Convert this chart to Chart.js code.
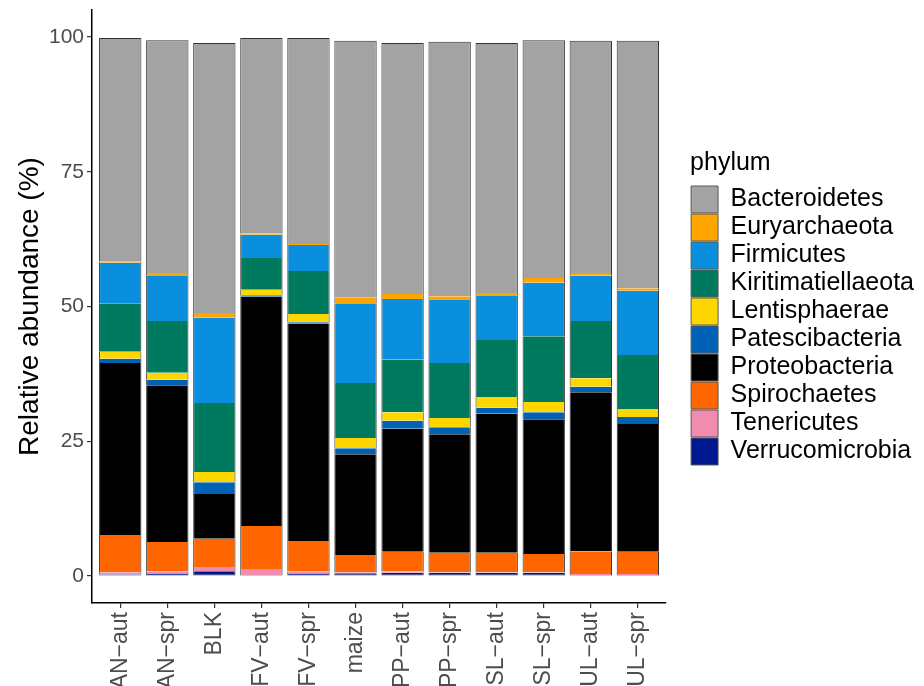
<!DOCTYPE html>
<html>
<head>
<meta charset="utf-8">
<title>Relative abundance by phylum</title>
<script src="https://cdn.jsdelivr.net/npm/chart.js@4.4.1/dist/chart.umd.min.js"></script>
<style>
  html, body { margin: 0; padding: 0; background: #fff; }
  #wrap { width: 924px; height: 686px; }
</style>
</head>
<body>
<div id="wrap"><canvas id="chart" width="924" height="686"></canvas></div>
<script>
const categories = ["AN−aut", "AN−spr", "BLK", "FV−aut", "FV−spr", "maize",
  "PP−aut", "PP−spr", "SL−aut", "SL−spr", "UL−aut", "UL−spr"];

// relative abundance (%) per sample
const bacteroidetes     = [41.5, 43.2, 50.1, 36.2, 38.2, 47.7, 46.6, 47.2, 46.4, 44.1, 43.1, 45.9];
const euryarchaeota     = [0.2, 0.4, 0.9, 0.3, 0.2, 1.0, 0.9, 0.7, 0.4, 0.9, 0.5, 0.5];
const firmicutes        = [7.5, 8.5, 15.8, 4.3, 4.8, 14.8, 11.3, 11.7, 8.3, 9.9, 8.4, 11.9];
const kiritimatiellaeota = [9.0, 9.6, 12.8, 5.9, 8.0, 10.2, 9.7, 10.2, 10.6, 12.2, 10.6, 10.0];
const lentisphaerae     = [1.3, 1.3, 1.9, 1.0, 1.5, 1.9, 1.6, 1.7, 2.0, 1.9, 1.6, 1.5];
const patescibacteria   = [0.8, 1.0, 2.2, 0.3, 0.3, 1.1, 1.5, 1.3, 1.1, 1.3, 1.0, 1.3];
const proteobacteria    = [31.9, 29.1, 8.3, 42.5, 40.3, 18.7, 22.8, 22.0, 25.8, 25.0, 29.5, 23.7];
const spirochaetes      = [6.9, 5.4, 5.2, 8.0, 5.6, 3.2, 3.6, 3.6, 3.6, 3.4, 4.2, 4.1];
const tenericutes       = [0.4, 0.5, 0.8, 1.1, 0.5, 0.2, 0.3, 0.1, 0.1, 0.1, 0.2, 0.2];
const verrucomicrobia   = [0.3, 0.4, 0.9, 0.2, 0.4, 0.5, 0.6, 0.6, 0.6, 0.6, 0.2, 0.2];

const yTicks = [0, 25, 50, 75, 100];

const FONT = "'Liberation Sans', Arial, Helvetica, sans-serif";
const EDGE = "#333333";

// bottom of the stack first
const layers = [
  { label: "Verrucomicrobia",    data: verrucomicrobia,    color: "#00188f" },
  { label: "Tenericutes",        data: tenericutes,        color: "#f08caf" },
  { label: "Spirochaetes",       data: spirochaetes,       color: "#ff6600" },
  { label: "Proteobacteria",     data: proteobacteria,     color: "#000000" },
  { label: "Patescibacteria",    data: patescibacteria,    color: "#0062b4" },
  { label: "Lentisphaerae",      data: lentisphaerae,      color: "#ffd700" },
  { label: "Kiritimatiellaeota", data: kiritimatiellaeota, color: "#007a5e" },
  { label: "Firmicutes",         data: firmicutes,         color: "#0a8fdf" },
  { label: "Euryarchaeota",      data: euryarchaeota,      color: "#ffa500" },
  { label: "Bacteroidetes",      data: bacteroidetes,      color: "#a3a3a3" },
];

const datasets = layers.map((l, k) => ({
  label: l.label,
  data: l.data.map((v, i) => ({ x: i, y: v })),
  backgroundColor: l.color,
  borderColor: EDGE,
  borderWidth: {
    left: 1, right: 1,
    top: k === layers.length - 1 ? 1 : 0,
    bottom: k === 0 ? 1 : 0,
  },
  borderSkipped: false,
  barPercentage: 0.9,
  categoryPercentage: 1.0,
}));

new Chart(document.getElementById("chart"), {
  type: "bar",
  data: { datasets },
  options: {
    responsive: false,
    animation: false,
    devicePixelRatio: 1,
    layout: { padding: { top: 10, left: 0, right: 0, bottom: 0 } },
    plugins: {
      tooltip: { enabled: false },
      legend: {
        position: "right",
        fullSize: false,
        reverse: true,
        align: "center",
        maxWidth: 260,
        title: {
          display: true,
          text: "phylum",
          position: "start",
          color: "#000",
          font: { family: FONT, size: 25 },
          padding: { top: 4, bottom: 4 },
        },
        labels: {
          color: "#000",
          font: { family: FONT, size: 25 },
          boxWidth: 27,
          boxHeight: 27,
          padding: 1,
          generateLabels: (chart) =>
            Chart.defaults.plugins.legend.labels.generateLabels(chart).map((it) => ({
              ...it, strokeStyle: "#5a5a5a", lineWidth: 1,
            })),
        },
      },
    },
    scales: {
      x: {
        type: "linear",
        min: -0.6,
        max: 11.6,
        offset: false,
        stacked: true,
        afterBuildTicks: (s) => { s.ticks = categories.map((_, i) => ({ value: i })); },
        afterFit: (s) => { s.height = 83; s.paddingLeft = 0; s.paddingRight = 0; },
        ticks: {
          autoSkip: false,
          minRotation: 90,
          maxRotation: 90,
          padding: 4,
          color: "#4d4d4d",
          font: { family: FONT, size: 23 },
          callback: (v) => categories[v],
        },
        grid: { offset: false, drawOnChartArea: false, drawTicks: true, tickLength: 5, color: "#333", lineWidth: 1.2 },
        border: { display: true, color: "#000", width: 1.5 },
      },
      y: {
        min: -5,
        max: 105,
        stacked: true,
        afterBuildTicks: (s) => { s.ticks = yTicks.map((v) => ({ value: v })); },
        afterFit: (s) => { s.width = 92; s.paddingTop = 0; s.paddingBottom = 0; },
        ticks: {
          padding: 3,
          color: "#4d4d4d",
          font: { family: FONT, size: 21 },
        },
        title: {
          display: true,
          text: "Relative abundance (%)",
          color: "#000",
          font: { family: FONT, size: 28 },
          padding: { top: 13, bottom: 0 },
        },
        grid: { drawOnChartArea: false, drawTicks: true, tickLength: 5, color: "#333", lineWidth: 1.2 },
        border: { display: true, color: "#000", width: 1.5 },
      },
      // empty right-hand spacer: keeps the gap between the panel and the legend
      gap: {
        type: "linear",
        position: "right",
        display: true,
        afterFit: (s) => { s.width = 24; },
        ticks: { display: false },
        grid: { display: false },
        border: { display: false },
      },
    },
  },
});
</script>
</body>
</html>
